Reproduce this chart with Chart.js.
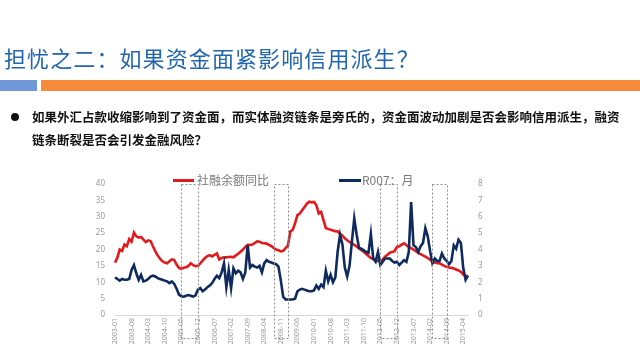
<!DOCTYPE html>
<html>
<head>
<meta charset="utf-8">
<script src="https://cdn.jsdelivr.net/npm/chart.js@4/dist/chart.umd.min.js"></script>
<style>
  html,body{margin:0;padding:0;background:#fff;}
  #wrap{position:relative;width:640px;height:360px;overflow:hidden;background:#fff;font-family:"Noto Sans CJK SC","Noto Sans",sans-serif;}
  #c{position:absolute;left:0;top:0;}
  .t{position:absolute;white-space:nowrap;}
  #title{left:4px;top:42px;font-size:22px;color:#2266ae;letter-spacing:1.1px;line-height:30px;}
  #barA{position:absolute;left:0;top:80px;width:37px;height:11px;background:#7097d6;}
  #barB{position:absolute;left:41px;top:80px;width:599px;height:11px;background:#f68a3b;}
  #dot{position:absolute;left:11px;top:113px;width:8px;height:8px;border-radius:50%;background:#111;}
  .body{left:32px;font-size:12.5px;color:#111;font-weight:700;line-height:16px;letter-spacing:0px;}
  .leg{font-size:12px;color:#7a7a7a;line-height:14px;top:173px;}
  .legline{position:absolute;height:3px;top:179px;}
</style>
</head>
<body>
<div id="wrap">
  <canvas id="c" width="640" height="360"></canvas>
  <div id="title" class="t">担忧之二：如果资金面紧影响信用派生？</div>
  <div id="barA"></div><div id="barB"></div>
  <div id="dot"></div>
  <div class="t body" style="top:109px;">如果外汇占款收缩影响到了资金面，而实体融资链条是旁氏的，资金面波动加剧是否会影响信用派生，融资</div>
  <div class="t body" style="top:132px;">链条断裂是否会引发金融风险？</div>
  <div class="legline" style="left:173px;width:21px;background:#e3191c;"></div>
  <div class="t leg" style="left:197px;">社融余额同比</div>
  <div class="legline" style="left:339px;width:22px;background:#0f2a5e;"></div>
  <div class="t leg" style="left:362px;">R007：月</div>
</div>
<script>
const months = [
'2003-01','2003-02','2003-03','2003-04','2003-05','2003-06','2003-07','2003-08','2003-09','2003-10','2003-11','2003-12',
'2004-01','2004-02','2004-03','2004-04','2004-05','2004-06','2004-07','2004-08','2004-09','2004-10','2004-11','2004-12',
'2005-01','2005-02','2005-03','2005-04','2005-05','2005-06','2005-07','2005-08','2005-09','2005-10','2005-11','2005-12',
'2006-01','2006-02','2006-03','2006-04','2006-05','2006-06','2006-07','2006-08','2006-09','2006-10','2006-11','2006-12',
'2007-01','2007-02','2007-03','2007-04','2007-05','2007-06','2007-07','2007-08','2007-09','2007-10','2007-11','2007-12',
'2008-01','2008-02','2008-03','2008-04','2008-05','2008-06','2008-07','2008-08','2008-09','2008-10','2008-11','2008-12',
'2009-01','2009-02','2009-03','2009-04','2009-05','2009-06','2009-07','2009-08','2009-09','2009-10','2009-11','2009-12',
'2010-01','2010-02','2010-03','2010-04','2010-05','2010-06','2010-07','2010-08','2010-09','2010-10','2010-11','2010-12',
'2011-01','2011-02','2011-03','2011-04','2011-05','2011-06','2011-07','2011-08','2011-09','2011-10','2011-11','2011-12',
'2012-01','2012-02','2012-03','2012-04','2012-05','2012-06','2012-07','2012-08','2012-09','2012-10','2012-11','2012-12',
'2013-01','2013-02','2013-03','2013-04','2013-05','2013-06','2013-07','2013-08','2013-09','2013-10','2013-11','2013-12',
'2014-01','2014-02','2014-03','2014-04','2014-05','2014-06','2014-07','2014-08','2014-09','2014-10','2014-11','2014-12',
'2015-01','2015-02','2015-03','2015-04','2015-05','2015-06'];

// 社融余额同比 (%) — left axis
const tsfYoY = [
16.0,17.5,20.0,19.6,21.5,21.0,23.2,22.4,25.2,24.0,23.6,23.8,
23.0,22.3,22.8,22.6,21.0,19.5,18.2,17.2,16.4,16.0,15.8,16.4,
17.0,16.8,15.4,14.4,14.1,14.4,14.6,15.0,15.8,15.2,14.9,15.0,
15.8,16.6,17.4,18.0,18.3,17.9,18.4,18.8,17.0,17.4,17.6,17.6,
17.7,17.8,17.6,18.2,18.7,19.3,20.0,20.8,21.4,21.4,21.5,22.0,
22.5,22.4,22.0,21.9,21.8,21.4,21.0,20.5,20.0,19.8,19.4,19.6,
20.4,21.2,25.5,26.0,28.0,30.5,31.0,32.0,33.0,34.0,34.6,34.4,
34.5,33.5,31.0,31.5,29.0,26.5,26.3,26.0,25.8,25.6,25.5,24.8,
24.2,23.4,22.8,22.3,21.9,21.4,20.9,20.3,19.8,19.3,18.6,18.0,
17.4,17.1,16.8,16.5,16.3,17.0,17.8,18.4,19.0,19.2,19.5,20.8,
21.0,21.5,21.9,21.3,20.8,20.4,20.0,19.5,19.0,18.6,18.2,17.8,
17.4,16.9,16.4,16.0,15.8,15.8,15.4,15.0,14.7,14.5,14.4,14.2,
13.9,13.6,13.2,12.4,12.0,11.8];

// R007 月均 (%) — right axis
const r007 = [
2.30,2.20,2.10,2.20,2.15,2.15,2.20,2.75,3.05,2.55,2.15,2.45,
2.05,2.10,2.20,2.35,2.40,2.35,2.25,2.20,2.15,2.10,2.05,1.95,
2.05,1.90,1.60,1.25,1.15,1.12,1.18,1.22,1.18,1.12,1.20,1.55,
1.65,1.45,1.55,1.70,1.80,1.95,2.20,2.40,2.25,2.60,3.15,1.70,
2.75,1.65,2.85,2.55,2.70,2.60,2.20,2.60,4.25,2.90,3.05,2.95,
2.90,3.00,2.60,3.15,3.35,3.25,3.20,3.15,3.10,2.95,2.10,1.10,
0.95,0.95,0.95,0.95,1.00,1.45,1.55,1.60,1.55,1.50,1.45,1.45,
1.50,1.80,1.60,1.85,1.70,2.70,2.05,2.45,2.00,2.30,3.90,4.90,
4.30,2.90,2.35,3.00,4.50,5.90,4.90,4.10,4.05,3.95,3.85,3.80,
4.95,3.45,3.25,3.85,3.05,3.25,3.45,3.45,3.45,3.30,3.20,3.25,
3.05,3.20,3.35,3.25,3.85,6.90,4.25,4.15,3.85,4.20,4.40,5.30,
4.80,3.90,3.15,3.45,3.30,3.30,3.75,3.45,3.30,3.10,3.30,4.25,
4.05,4.60,4.40,2.85,2.15,2.40];

const leftTicks = [0,5,10,15,20,25,30,35,40];
const rightTicks = [0,1,2,3,4,5,6,7,8];
const tickEvery = 7;

// highlighted periods (dashed boxes)
const periods = [['2005-05','2005-12'],['2008-08','2009-02'],['2012-05','2012-12'],['2014-03','2014-09']];

const periodPlugin = {
  id:'periods',
  afterDraw(c){
    const xs=c.scales.x, a=c.chartArea, g=c.ctx;
    g.save();
    g.setLineDash([2,2]);
    g.strokeStyle='#8c8c8c';
    g.lineWidth=1;
    periods.forEach(([s,e])=>{
      const x1=Math.round(xs.getPixelForValue(months.indexOf(s)))+0.5;
      const x2=Math.round(xs.getPixelForValue(months.indexOf(e)))+0.5;
      g.strokeRect(x1, a.top+0.5, x2-x1, a.bottom+23-a.top);
    });
    g.restore();
  }
};

const tickFont = {family:'"Noto Sans", "DejaVu Sans", sans-serif', size:8};

new Chart(document.getElementById('c'), {
  type:'line',
  data:{
    labels:months,
    datasets:[
      {label:'社融余额同比', data:tsfYoY, yAxisID:'yL', borderColor:'#e3191c', borderWidth:2.6, pointRadius:0, tension:0, order:1},
      {label:'R007：月', data:r007, yAxisID:'yR', borderColor:'#0f2a5e', borderWidth:2.6, pointRadius:0, tension:0, order:0}
    ]
  },
  options:{
    responsive:false, animation:false,
    layout:{padding:{left:0,right:0,top:184,bottom:0}},
    plugins:{legend:{display:false}, tooltip:{enabled:false}},
    scales:{
      x:{
        grid:{display:false, drawTicks:false},
        border:{display:true, color:'#d9d9d9', width:1},
        ticks:{autoSkip:false, maxRotation:90, minRotation:90, padding:3, color:'#9a9a9a',
               font:{family:'"Noto Sans", "DejaVu Sans", sans-serif', size:7},
               callback:(v,i)=> (i%tickEvery===0 ? months[i] : '')},
        afterFit:s=>{s.height=45;}
      },
      yL:{
        position:'left', min:0, max:40,
        afterBuildTicks:s=>{s.ticks=leftTicks.map(v=>({value:v}));},
        grid:{display:false, drawTicks:false}, border:{display:false},
        ticks:{padding:10, color:'#9a9a9a', font:tickFont},
        afterFit:s=>{s.width=115;}
      },
      yR:{
        position:'right', min:0, max:8,
        afterBuildTicks:s=>{s.ticks=rightTicks.map(v=>({value:v}));},
        grid:{display:false, drawTicks:false}, border:{display:false},
        ticks:{padding:10, color:'#9a9a9a', font:tickFont},
        afterFit:s=>{s.width=172;}
      }
    }
  },
  plugins:[periodPlugin]
});
</script>
</body>
</html>
